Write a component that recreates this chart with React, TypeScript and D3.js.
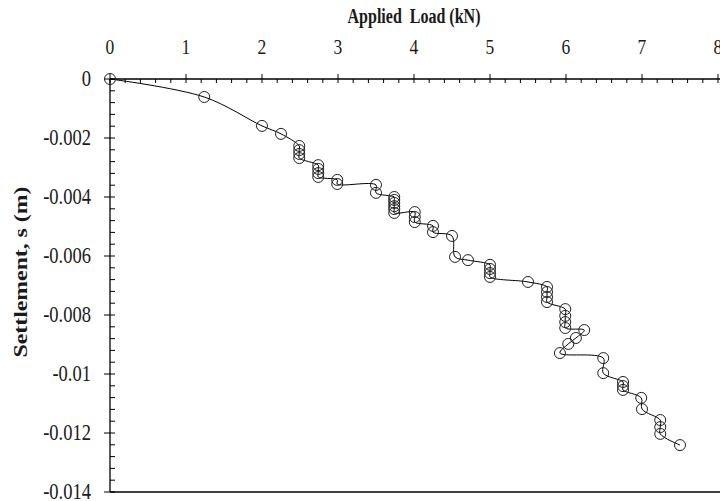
import * as d3 from 'd3';
import React, { useEffect, useRef } from 'react';

// applied load (kN) and settlement (m)
const load = [
  0, 1.24, 2.0, 2.25,
  2.49, 2.49, 2.49, 2.49,
  2.74, 2.74, 2.74, 2.74,
  2.99, 2.99, 3.5, 3.5,
  3.74, 3.74, 3.74, 3.74, 3.74, 3.74,
  4.01, 4.01, 4.01, 4.25, 4.25, 4.5, 4.54, 4.71,
  5.0, 5.0, 5.0, 5.0, 5.5,
  5.75, 5.75, 5.75, 5.75,
  5.99, 5.99, 5.99, 5.99,
  6.24, 6.13, 6.03, 5.92, 6.49, 6.49,
  6.75, 6.75, 6.75, 6.99, 7.0,
  7.24, 7.24, 7.24, 7.5,
];
const settlement = [
  0, -0.00061, -0.00159, -0.00186,
  -0.00227, -0.00241, -0.00254, -0.00268,
  -0.00292, -0.00305, -0.00319, -0.00332,
  -0.00342, -0.00356, -0.00359, -0.00386,
  -0.004, -0.0041, -0.0042, -0.00431, -0.00441, -0.00454,
  -0.00451, -0.00468, -0.00485, -0.00498, -0.00519, -0.00532, -0.00603, -0.00614,
  -0.0063, -0.00644, -0.00658, -0.00671, -0.00688,
  -0.00705, -0.00722, -0.00739, -0.00756,
  -0.0078, -0.00803, -0.00824, -0.00844,
  -0.00851, -0.00878, -0.00898, -0.00929, -0.00946, -0.00997,
  -0.01027, -0.01041, -0.01054, -0.01081, -0.01119,
  -0.01156, -0.0118, -0.01203, -0.01241,
];
const xTicks = [0, 1, 2, 3, 4, 5, 6, 7, 8];
const yTicks = [0, -0.002, -0.004, -0.006, -0.008, -0.01, -0.012, -0.014];

const App = () => {
  const svgRef = useRef<SVGSVGElement>(null);

  useEffect(() => {
    const svg = d3.select(svgRef.current);
    svg.selectAll('*').remove();

    const left = 110, top = 79, right = 718, bottom = 492;
    const font = '"Liberation Serif", "Times New Roman", serif';
    const stretch = 1.25; // text in the reference is a bit tall
    const ink = '#1a1a1a';

    const x = d3.scaleLinear().domain([0, 8]).range([left, right]);
    const y = d3.scaleLinear().domain([0, -0.014]).range([top, bottom]);

    const g = svg.append('g');

    // bottom frame line
    g.append('line')
      .attr('x1', left).attr('x2', 720)
      .attr('y1', bottom).attr('y2', bottom)
      .attr('stroke', '#000').attr('stroke-width', 1.3);

    // x axis along the top
    g.append('line')
      .attr('x1', left).attr('x2', 720)
      .attr('y1', top).attr('y2', top)
      .attr('stroke', '#000').attr('stroke-width', 1.3);
    d3.range(0, 8.01, 0.2).forEach((v) => {
      const major = Math.abs(v - Math.round(v)) < 1e-6;
      g.append('line')
        .attr('x1', x(v)).attr('x2', x(v))
        .attr('y1', major ? top - 5 : top).attr('y2', top + 4)
        .attr('stroke', '#000').attr('stroke-width', 1);
    });
    xTicks.forEach((v) => {
      g.append('text')
        .attr('transform', `translate(${x(v)},54) scale(1,${stretch})`)
        .attr('text-anchor', 'middle')
        .attr('font-family', font).attr('font-size', 17.5)
        .attr('fill', ink)
        .text(v);
    });

    // y axis on the left
    g.append('line')
      .attr('x1', left).attr('x2', left)
      .attr('y1', top).attr('y2', bottom)
      .attr('stroke', '#000').attr('stroke-width', 1.3);
    d3.range(0, 36).forEach((i) => {
      const v = -i * 0.0004;
      const major = i % 5 === 0;
      g.append('line')
        .attr('x1', major ? left - 6 : left).attr('x2', left + 5)
        .attr('y1', y(v)).attr('y2', y(v))
        .attr('stroke', '#000').attr('stroke-width', 1);
    });
    yTicks.forEach((v) => {
      g.append('text')
        .attr('transform', `translate(91,${y(v) + 6.5}) scale(1,${stretch})`)
        .attr('text-anchor', 'end')
        .attr('font-family', font).attr('font-size', 18.5)
        .attr('fill', ink)
        .text(v === 0 ? '0' : String(v));
    });

    // titles
    g.append('text')
      .attr('transform', `translate(414,23) scale(1,${stretch})`)
      .attr('text-anchor', 'middle')
      .attr('font-family', font).attr('font-size', 16).attr('font-weight', 'bold')
      .attr('fill', ink)
      .attr('xml:space', 'preserve')
      .text('Applied  Load (kN)');
    g.append('text')
      .attr('transform', `translate(27,272) scale(1,${stretch}) rotate(-90)`)
      .attr('text-anchor', 'middle')
      .attr('font-family', font).attr('font-size', 19).attr('font-weight', 'bold')
      .attr('fill', ink)
      .text('Settlement, s (m)');

    // data
    const pts = load.map((l, i) => [l, settlement[i]] as [number, number]);
    const line = d3.line<[number, number]>()
      .x((d) => x(d[0])).y((d) => y(d[1]))
      .curve(d3.curveCatmullRom.alpha(0.5));
    g.append('path')
      .attr('d', line(pts))
      .attr('fill', 'none').attr('stroke', '#000').attr('stroke-width', 1);

    g.selectAll('circle.pt')
      .data(pts)
      .enter()
      .append('circle')
      .attr('class', 'pt')
      .attr('cx', (d) => x(d[0]))
      .attr('cy', (d) => y(d[1]))
      .attr('r', 5.5)
      .attr('fill', 'none')
      .attr('stroke', '#222')
      .attr('stroke-width', 1);
  }, []);

  return (
    <div style={{ position: 'absolute', left: 0, top: 0 }}>
      <svg ref={svgRef} width={720} height={501} style={{ display: 'block', background: '#fff' }} />
    </div>
  );
};

export default App;
